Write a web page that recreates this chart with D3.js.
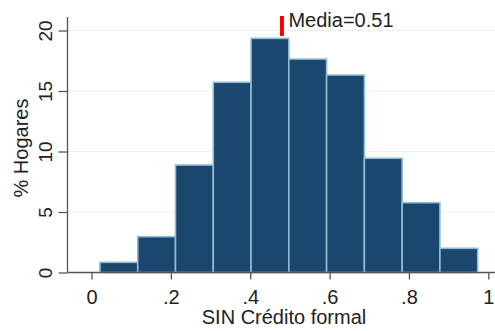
<!DOCTYPE html>
<html><head><meta charset="utf-8">
<script src="https://cdn.jsdelivr.net/npm/d3@7"></script>
<style>html,body{margin:0;padding:0;background:#fff;}svg{display:block;font-family:"Liberation Sans",Arial,sans-serif;}</style>
</head><body><svg id="c" width="495" height="331"></svg>
<script>
const binStart = 0.0213;
const binWidth = 0.0952;
const percents = [0.84, 2.96, 8.88, 15.72, 19.35, 17.64, 16.32, 9.44, 5.77, 2.0];
const xTicks = [0, 0.2, 0.4, 0.6, 0.8, 1];
const xTickLabels = ["0", ".2", ".4", ".6", ".8", "1"];
const yTicks = [0, 5, 10, 15, 20];
const meanMarker = 0.48;
const meanLabel = "Media=0.51";
const xTitle = "SIN Crédito formal";
const yTitle = "% Hogares";

(function () {
const svg = d3.select("#c");
const x = d3.scaleLinear().domain([0, 1]).range([91.5, 488.3]);
const y = d3.scaleLinear().domain([0, 20]).range([272.5, 30.5]);
const pLeft = 67.5, pRight = 495, pTop = 17, pBottom = 272.5;

// gridlines
svg.append("g").selectAll("line").data(yTicks.filter(d => d > 0)).join("line")
  .attr("x1", pLeft).attr("x2", pRight).attr("y1", d => y(d)).attr("y2", d => y(d))
  .attr("stroke", "#eaf1f4").attr("stroke-width", 1.2);

// bars
const bins = percents.map((v, i) => ({x0: binStart + i * binWidth, x1: binStart + (i + 1) * binWidth, v}));
svg.append("g").selectAll("rect").data(bins).join("rect")
  .attr("x", d => x(d.x0)).attr("width", d => x(d.x1) - x(d.x0))
  .attr("y", d => y(d.v)).attr("height", d => y(0) - y(d.v))
  .attr("fill", "#1b476e").attr("stroke", "#8fbdd3").attr("stroke-width", 1.6);

// y axis
const yAxis = d3.axisLeft(y).tickValues(yTicks).tickSize(9).tickFormat(d3.format("d"));
const gy = svg.append("g").attr("transform", `translate(${pLeft},0)`).call(yAxis);
gy.select(".domain").attr("d", `M0,${pTop}V${pBottom}`).attr("stroke", "#555").attr("stroke-width", 1.3);
gy.selectAll(".tick line").attr("stroke", "#555").attr("stroke-width", 1.3);
gy.selectAll(".tick text").attr("transform", "rotate(-90)").attr("x", 0).attr("y", -16)
  .attr("dy", 0).attr("text-anchor", "middle").attr("font-size", 19).attr("fill", "#222")
  .attr("font-family", "Liberation Sans, Arial, sans-serif");

// x axis
const xAxis = d3.axisBottom(x).tickValues(xTicks).tickSize(7).tickFormat((d, i) => xTickLabels[i]);
const gx = svg.append("g").attr("transform", `translate(0,${pBottom})`).call(xAxis);
gx.select(".domain").attr("d", `M${pLeft},0H${pRight}`).attr("stroke", "#555").attr("stroke-width", 1.3);
gx.selectAll(".tick line").attr("stroke", "#555").attr("stroke-width", 1.3);
gx.selectAll(".tick text").attr("y", 31).attr("dy", 0).attr("font-size", 20).attr("fill", "#222")
  .attr("font-family", "Liberation Sans, Arial, sans-serif");

// mean marker
svg.append("line").attr("x1", x(meanMarker)).attr("x2", x(meanMarker)).attr("y1", 16).attr("y2", 36)
  .attr("stroke", "#ff0000").attr("stroke-width", 4);
svg.append("text").attr("x", x(meanMarker) + 6.5).attr("y", 27).attr("font-size", 20).attr("fill", "#222").text(meanLabel);

// titles
svg.append("text").attr("x", 284).attr("y", 324).attr("text-anchor", "middle").attr("font-size", 20).attr("fill", "#222").text(xTitle);
svg.append("text").attr("transform", "translate(28,148) rotate(-90)").attr("text-anchor", "middle").attr("font-size", 20).attr("fill", "#222").text(yTitle);
})();
</script></body></html>
